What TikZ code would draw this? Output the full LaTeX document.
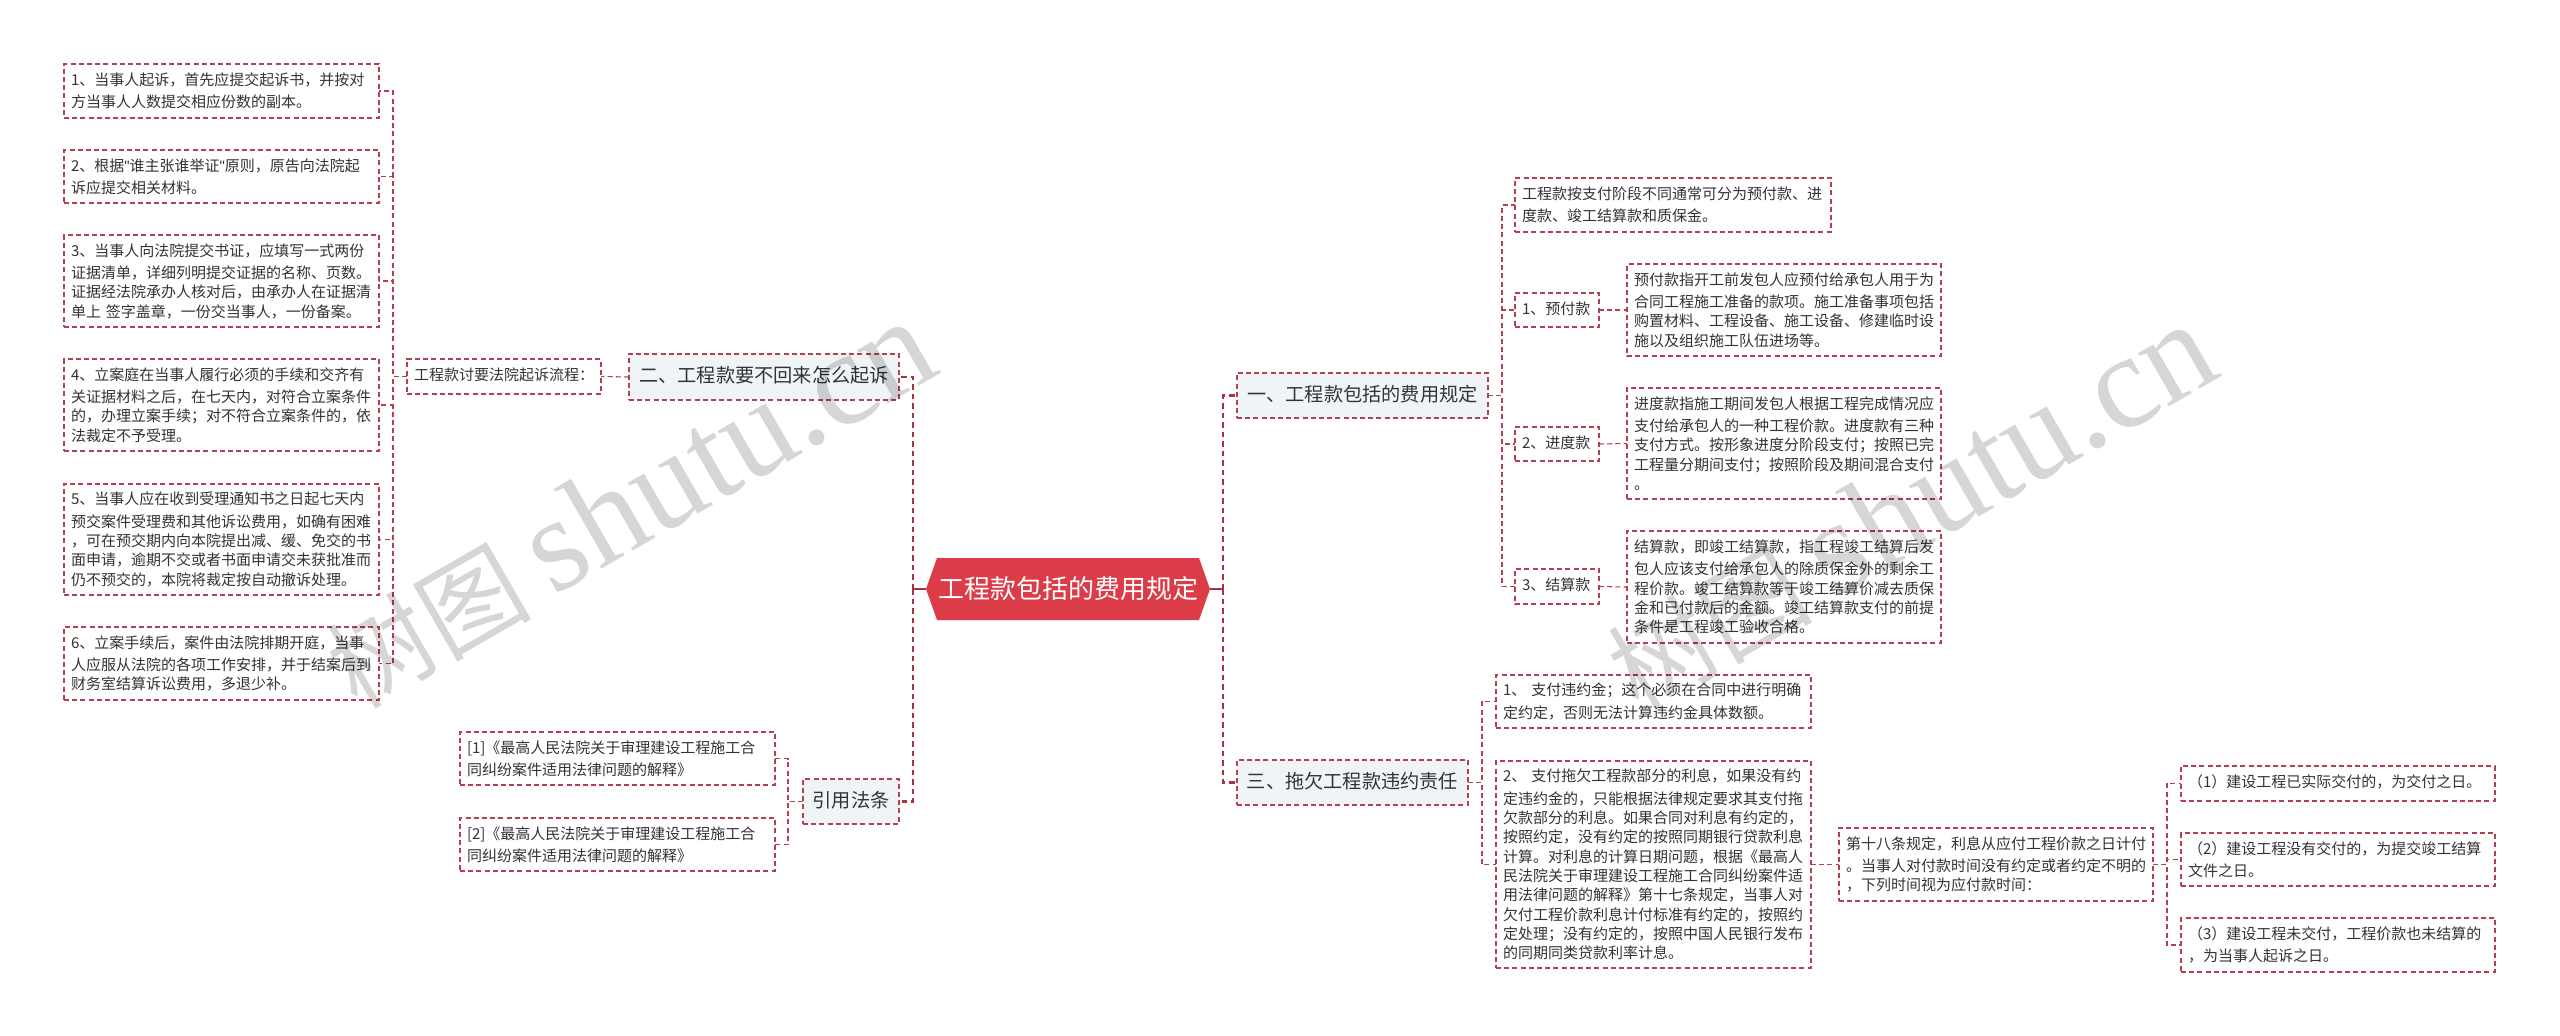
\documentclass[tikz,border=0pt]{standalone}
\usepackage{fontspec}
\setmainfont{Noto Sans CJK SC}
\newfontfamily\wmlatin{Liberation Serif}
\newfontfamily\quotefont{Liberation Sans}
\definecolor{dashred}{HTML}{B5404F}
\definecolor{trunkred}{HTML}{A83240}
\definecolor{hexred}{HTML}{DC3C48}
\definecolor{inktext}{HTML}{333333}
\definecolor{groupfill}{HTML}{F1F4F7}
\tikzset{
  basebox/.style={draw=dashred,line width=1.1pt,dash pattern=on 5pt off 3.2pt,anchor=north west,outer sep=0pt,
    inner xsep=7pt,inner ysep=0pt,text=inktext,align=left,font=\fontsize{15pt}{19.3pt}\selectfont,
    execute at begin node={\vspace*{3pt}}},
  leaf/.style 2 args={basebox,text width=#1pt-14pt,minimum height=#2pt},
  group/.style 2 args={basebox,fill=groupfill,align=center,inner xsep=0pt,text width=#1pt,minimum height=#2pt,font=\fontsize{19.2pt}{24pt}\selectfont},
  conn/.style={draw=dashred,line width=1.1pt,dash pattern=on 5pt off 3.2pt},
  trunk/.style={draw=trunkred,line width=2.2pt,dash pattern=on 5.5pt off 4pt},
  stem/.style={draw=trunkred,line width=2.2pt},
  wm/.style={text=black,text opacity=.16,rotate=30,anchor=base east,font=\fontsize{102pt}{102pt}\selectfont},
  hexmain/.style={anchor=center,minimum width=284pt,minimum height=62pt,inner sep=0pt,outer sep=0pt,text=white,
    font=\fontsize{26pt}{30pt}\selectfont,
    path picture={\fill[hexred] (path picture bounding box.west)
      -- ([xshift=11pt]path picture bounding box.north west)
      -- ([xshift=-11pt]path picture bounding box.north east)
      -- (path picture bounding box.east)
      -- ([xshift=-11pt]path picture bounding box.south east)
      -- ([xshift=11pt]path picture bounding box.south west) -- cycle;}},
}
\newcommand{\wmtext}{树图\hspace{.22em}{\wmlatin\fontsize{134pt}{134pt}\selectfont shutu.cn}}
\begin{document}
\begin{tikzpicture}[x=1pt,y=-1pt]
\fill[white] (0,0) rectangle (2560,1036);
\useasboundingbox (0,0) rectangle (2560,1036);

\coordinate (tMainL) at (913,0);
\coordinate (tMainR) at (1223,0);
\coordinate (tFlow) at (393,0);
\coordinate (tLaw) at (788,0);
\coordinate (tOne) at (1502,0);
\coordinate (tThree) at (1482,0);
\coordinate (tDate) at (2167,0);

% root
\node[hexmain] (main) at (1068,589) {工程款包括的费用规定};

% left branch
\node[group={270}{46}] (two) at (629,354) {二、工程款要不回来怎么起诉};
\node[leaf={194}{35}] (flow) at (407,359) {工程款讨要法院起诉流程：};
\node[leaf={315}{54}] (b1) at (64,64) {1、当事人起诉，首先应提交起诉书，并按对\\方当事人人数提交相应份数的副本。};
\node[leaf={315}{53}] (b2) at (64,150) {2、根据{\quotefont"}谁主张谁举证{\quotefont"}原则，原告向法院起\\诉应提交相关材料。};
\node[leaf={315}{92}] (b3) at (64,235) {3、当事人向法院提交书证，应填写一式两份\\证据清单，详细列明提交证据的名称、页数。\\证据经法院承办人核对后，由承办人在证据清\\单上 签字盖章，一份交当事人，一份备案。};
\node[leaf={315}{92}] (b4) at (64,359) {4、立案庭在当事人履行必须的手续和交齐有\\关证据材料之后，在七天内，对符合立案条件\\的，办理立案手续；对不符合立案条件的，依\\法裁定不予受理。};
\node[leaf={315}{111}] (b5) at (64,484) {5、当事人应在收到受理通知书之日起七天内\\预交案件受理费和其他诉讼费用，如确有困难\\，可在预交期内向本院提出减、缓、免交的书\\面申请，逾期不交或者书面申请交未获批准而\\仍不预交的，本院将裁定按自动撤诉处理。};
\node[leaf={315}{73}] (b6) at (64,627) {6、立案手续后，案件由法院排期开庭，当事\\人应服从法院的各项工作安排，并于结案后到\\财务室结算诉讼费用，多退少补。};

\node[group={96}{45}] (law) at (803,779) {引用法条};
\node[leaf={315}{53}] (l1) at (460,732) {[1]《最高人民法院关于审理建设工程施工合\\同纠纷案件适用法律问题的解释》};
\node[leaf={315}{53}] (l2) at (460,818) {[2]《最高人民法院关于审理建设工程施工合\\同纠纷案件适用法律问题的解释》};

% right branch
\node[group={251}{45}] (one) at (1237,373) {一、工程款包括的费用规定};
\node[leaf={316}{54}] (r0) at (1515,178) {工程款按支付阶段不同通常可分为预付款、进\\度款、竣工结算款和质保金。};
\node[leaf={84}{34}] (r1) at (1515,293) {1、预付款};
\node[leaf={84}{34}] (r2) at (1515,427) {2、进度款};
\node[leaf={84}{35}] (r3) at (1515,569) {3、结算款};
\node[leaf={314}{92}] (d1) at (1627,264) {预付款指开工前发包人应预付给承包人用于为\\合同工程施工准备的款项。施工准备事项包括\\购置材料、工程设备、施工设备、修建临时设\\施以及组织施工队伍进场等。};
\node[leaf={314}{111}] (d2) at (1627,388) {进度款指施工期间发包人根据工程完成情况应\\支付给承包人的一种工程价款。进度款有三种\\支付方式。按形象进度分阶段支付；按照已完\\工程量分期间支付；按照阶段及期间混合支付\\。};
\node[leaf={314}{112}] (d3) at (1627,531) {结算款，即竣工结算款，指工程竣工结算后发\\包人应该支付给承包人的除质保金外的剩余工\\程价款。竣工结算款等于竣工结算价减去质保\\金和已付款后的金额。竣工结算款支付的前提\\条件是工程竣工验收合格。};

\node[group={231}{45}] (three) at (1237,760) {三、拖欠工程款违约责任};
\node[leaf={315}{53}] (s1) at (1496,675) {1、 支付违约金；这个必须在合同中进行明确\\定约定，否则无法计算违约金具体数额。};
\node[leaf={315}{207}] (s2) at (1496,761) {2、 支付拖欠工程款部分的利息，如果没有约\\定违约金的，只能根据法律规定要求其支付拖\\欠款部分的利息。如果合同对利息有约定的，\\按照约定，没有约定的按照同期银行贷款利息\\计算。对利息的计算日期问题，根据《最高人\\民法院关于审理建设工程施工合同纠纷案件适\\用法律问题的解释》第十七条规定，当事人对\\欠付工程价款利息计付标准有约定的，按照约\\定处理；没有约定的，按照中国人民银行发布\\的同期同类贷款利率计息。};
\node[leaf={314}{73}] (art) at (1839,828) {第十八条规定，利息从应付工程价款之日计付\\。当事人对付款时间没有约定或者约定不明的\\，下列时间视为应付款时间：};
\node[leaf={314}{35}] (p1) at (2181,766) {（1）建设工程已实际交付的，为交付之日。};
\node[leaf={314}{53}] (p2) at (2181,833) {（2）建设工程没有交付的，为提交竣工结算\\文件之日。};
\node[leaf={314}{54}] (p3) at (2181,918) {（3）建设工程未交付，工程价款也未结算的\\，为当事人起诉之日。};

% connectors from the root
\draw[stem] (main.west) -- (tMainL|-main.west);
\draw[stem] (main.east) -- (tMainR|-main.east);
\draw[trunk] (tMainL|-main.west) |- (two.east);
\draw[trunk] (tMainL|-main.west) |- (law.east);
\draw[trunk] (tMainR|-main.east) |- (one.west);
\draw[trunk] (tMainR|-main.east) |- (three.west);

% left connectors
\draw[conn] (two.west) -- (flow.east);
\foreach \k in {b1,b2,b3,b4,b5,b6}{
  \draw[conn] (flow.west) -- (tFlow|-flow.west) |- (\k.east);
}
\foreach \k in {l1,l2}{
  \draw[conn] (law.west) -- (tLaw|-law.west) |- (\k.east);
}

% right connectors
\foreach \k in {r0,r1,r2,r3}{
  \draw[conn] (one.east) -- (tOne|-one.east) |- (\k.west);
}
\draw[conn] (r1.east) -- (d1.west);
\draw[conn] (r2.east) -- (d2.west);
\draw[conn] (r3.east) -- (d3.west);
\foreach \k in {s1,s2}{
  \draw[conn] (three.east) -- (tThree|-three.east) |- (\k.west);
}
\draw[conn] (s2.east) -- (art.west);
\foreach \k in {p1,p2,p3}{
  \draw[conn] (art.east) -- (tDate|-art.east) |- (\k.west);
}

% watermarks
\node[wm] (wmL) at (947,370) {\wmtext};
\node[wm] (wmR) at (2228,373) {\wmtext};
\end{tikzpicture}
\end{document}
